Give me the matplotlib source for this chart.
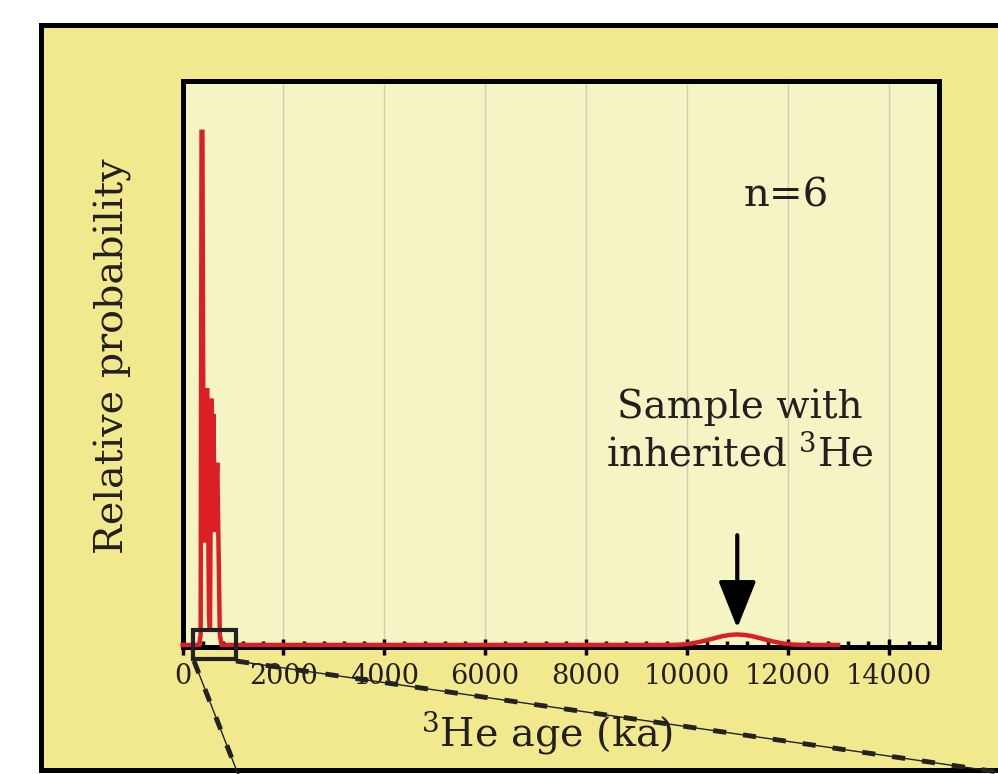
import matplotlib
matplotlib.use("Agg")
import matplotlib.pyplot as plt
from matplotlib.patches import Rectangle
from matplotlib.lines import Line2D
from matplotlib.ticker import MultipleLocator

plt.rcParams["mathtext.fontset"] = "dejavuserif"

# ---- data ----
age_ka = [0, 330, 360, 378, 395, 420, 445, 487, 525, 545, 570, 595, 612, 640, 690, 740, 775,
          9700, 9900, 10100, 10300, 10500, 10700, 10850, 11000, 11150, 11300, 11500,
          11700, 11900, 12100, 12300, 13000]
rel_prob = [0, 0, 0.02, 1.0, 1.0, 0.22, 0.20, 0.50, 0.06, 0.03, 0.48, 0.30, 0.45, 0.22, 0.355, 0.02, 0,
            0, 0.0008, 0.003, 0.007, 0.012, 0.017, 0.0195, 0.0205, 0.0195, 0.017, 0.012,
            0.007, 0.003, 0.0008, 0, 0]
xticks = [0, 2000, 4000, 6000, 8000, 10000, 12000, 14000]
n_label = "n=6"
annot_text = "Sample with\ninherited $^{3}$He"
annot_age = 11000
xlabel = "$^{3}$He age (ka)"
ylabel = "Relative probability"

W, H = 998, 774
fig = plt.figure(figsize=(W / 100, H / 100), dpi=100, facecolor="white")

def fx(px):
    return px / W

def fy(py):
    return 1 - py / H

OUTER = "#F2E88E"
INNER = "#F4F4C4"
RED = "#DC1F27"
TXT = "#231F20"
SERIF = ["DejaVu Serif"]

# outer panel
fig.patches.append(Rectangle((fx(41), fy(770)), 1.2, fy(24.5) - fy(770),
                             transform=fig.transFigure, facecolor=OUTER,
                             edgecolor="black", lw=3.6, zorder=-1))

ax = fig.add_axes([fx(182.5), fy(647), fx(939) - fx(182.5), fy(80.5) - fy(647)])
ax.set_facecolor(INNER)
ax.plot(age_ka, rel_prob, color=RED, lw=3.2, zorder=4, solid_joinstyle="miter",
        clip_on=False)
ax.set_xlim(0, 15000)
ax.set_ylim(-0.004, 1.10)

for s in ax.spines.values():
    s.set_linewidth(3.6)
    s.set_color("black")

ax.set_xticks(xticks)
ax.set_xticklabels([str(t) for t in xticks], family=SERIF, fontsize=19.5, color=TXT)
ax.xaxis.set_minor_locator(MultipleLocator(400))
ax.tick_params(axis="x", which="major", direction="inout", length=11, width=2.5,
               pad=6, color="black")
ax.tick_params(axis="x", which="minor", direction="in", length=4, width=2.5, color="black")
ax.set_yticks([])
ax.grid(axis="x", which="major", color="#CFCFB6", lw=1.0, zorder=0)
ax.set_axisbelow(True)

# annotations
ax.text(11966, 0.875, n_label, family=SERIF, fontsize=29, ha="center", va="center",
        color=TXT)
ax.text(11055, 0.417, annot_text, family=SERIF, fontsize=28, ha="center", va="center",
        linespacing=1.3, color=TXT)
ax.annotate("", xy=(annot_age, 0.033), xytext=(annot_age, 0.214),
            arrowprops=dict(arrowstyle="-|>,head_length=1.45,head_width=0.58",
                            mutation_scale=20, lw=3, color="black",
                            shrinkA=0, shrinkB=0), zorder=5)

# axis labels
fig.text(fx(547), fy(733), xlabel, family=SERIF, fontsize=28.5, ha="center",
         va="center", color=TXT)
fig.text(fx(113), fy(356), ylabel, family=SERIF, fontsize=28.5, ha="center",
         va="center", rotation=90, color=TXT)

# zoom-inset indicator box and dashed connectors
fig.patches.append(Rectangle((fx(193), fy(659)), fx(236) - fx(193), fy(630) - fy(659),
                             transform=fig.transFigure, facecolor="none",
                             edgecolor="#222222", lw=3.0, zorder=10))
for (x0, y0, x1, y1) in [(194, 661, 238, 774), (236, 661, 998, 772)]:
    fig.lines.append(Line2D([fx(x0), fx(x1)], [fy(y0), fy(y1)], transform=fig.transFigure,
                            color="#222222", lw=1.0, zorder=10))
    fig.lines.append(Line2D([fx(x0), fx(x1)], [fy(y0), fy(y1)], transform=fig.transFigure,
                            color="#222222", lw=3.5, zorder=10,
                            linestyle=(0, (2.7, 3.5))))

fig.savefig("out.png", dpi=100, facecolor="white")
